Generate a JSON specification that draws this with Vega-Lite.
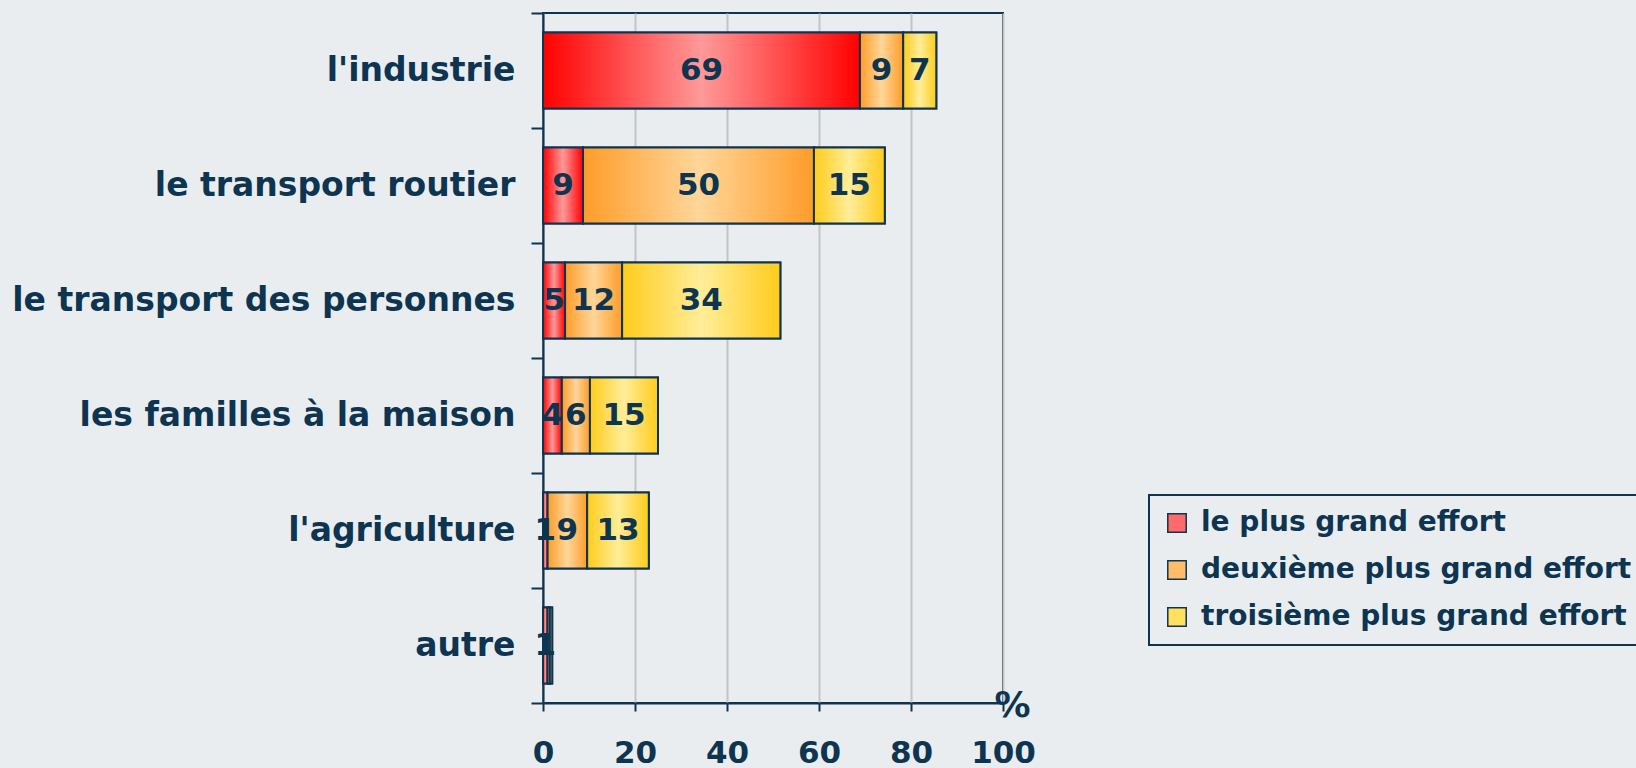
{
  "$schema": "https://vega.github.io/schema/vega-lite/v6.json",
  "autosize": {"type": "none"},
  "width": 460,
  "height": 690,
  "padding": {"left": 543, "top": 13, "right": 633, "bottom": 65},
  "background": "#e9edef",
  "config": {
    "font": "DejaVu Sans",
    "view": {"stroke": "#0d3551", "strokeWidth": 2},
    "axisX": {
      "titleFont": "DejaVu Sans",
      "titleFontSize": 36,
      "titleFontWeight": "bold",
      "titleColor": "#0d3551",
      "titleX": 469,
      "titleY": 2,
      "titleAlign": "center",
      "titleBaseline": "middle",
      "tickSize": 8,
      "tickWidth": 2,
      "tickColor": "#0d3551",
      "domainColor": "#0d3551",
      "domainWidth": 2,
      "grid": true,
      "gridColor": "#c4c4c4",
      "gridWidth": 2,
      "labelFont": "DejaVu Sans",
      "labelFontSize": 31,
      "labelFontWeight": "bold",
      "labelColor": "#0d3551",
      "labelPadding": 27,
      "labelFlush": false
    },
    "legend": {
      "orient": "none",
      "legendX": 606,
      "legendY": 482,
      "strokeColor": "#0d3551",
      "strokeWidth": 2,
      "padding": 14,
      "rowPadding": 19,
      "labelFont": "DejaVu Sans",
      "labelFontSize": 28,
      "labelFontWeight": "bold",
      "labelColor": "#0d3551",
      "labelOffset": 10,
      "labelLimit": 600,
      "symbolType": "square",
      "symbolSize": 340,
      "symbolOpacity": 1
    }
  },
  "data": {
    "values": [
      {"category": "l'industrie", "series": "le plus grand effort", "rank": 1, "value": 68.9},
      {"category": "l'industrie", "series": "deuxième plus grand effort", "rank": 2, "value": 9.4},
      {"category": "l'industrie", "series": "troisième plus grand effort", "rank": 3, "value": 7.2},
      {"category": "le transport routier ", "series": "le plus grand effort", "rank": 1, "value": 8.7},
      {"category": "le transport routier ", "series": "deuxième plus grand effort", "rank": 2, "value": 50.2},
      {"category": "le transport routier ", "series": "troisième plus grand effort", "rank": 3, "value": 15.4},
      {"category": "le transport des personnes", "series": "le plus grand effort", "rank": 1, "value": 4.8},
      {"category": "le transport des personnes", "series": "deuxième plus grand effort", "rank": 2, "value": 12.4},
      {"category": "le transport des personnes", "series": "troisième plus grand effort", "rank": 3, "value": 34.4},
      {"category": "les familles à la maison", "series": "le plus grand effort", "rank": 1, "value": 4.1},
      {"category": "les familles à la maison", "series": "deuxième plus grand effort", "rank": 2, "value": 6.1},
      {"category": "les familles à la maison", "series": "troisième plus grand effort", "rank": 3, "value": 14.8},
      {"category": "l'agriculture", "series": "le plus grand effort", "rank": 1, "value": 1.0},
      {"category": "l'agriculture", "series": "deuxième plus grand effort", "rank": 2, "value": 8.6},
      {"category": "l'agriculture", "series": "troisième plus grand effort", "rank": 3, "value": 13.4},
      {"category": "autre", "series": "le plus grand effort", "rank": 1, "value": 1.0},
      {"category": "autre", "series": "deuxième plus grand effort", "rank": 2, "value": 0.5},
      {"category": "autre", "series": "troisième plus grand effort", "rank": 3, "value": 0.5}
    ]
  },
  "encoding": {
    "y": {
      "field": "category",
      "type": "nominal",
      "sort": ["l'industrie", "le transport routier ", "le transport des personnes", "les familles à la maison", "l'agriculture", "autre"],
      "scale": {"paddingInner": 0, "paddingOuter": 0},
      "axis": {
        "title": null,
        "bandPosition": 1,
        "tickExtra": true,
        "tickSize": 12,
        "tickWidth": 2,
        "tickColor": "#0d3551",
        "domainColor": "#0d3551",
        "domainWidth": 2,
        "labelFont": "DejaVu Sans",
        "labelFontSize": 33,
        "labelFontWeight": "bold",
        "labelColor": "#0d3551",
        "labelPadding": 16,
        "labelLimit": 560,
        "labelExpr": "datum.value === 'le transport routier ' ? 'le transport routier\u00a0' : datum.value",
        "grid": false
      }
    }
  },
  "layer": [
    {
      "transform": [
        {"stack": "value", "groupby": ["category"], "sort": [{"field": "rank", "order": "ascending"}], "as": ["v0", "v1"]}
      ],
      "layer": [
        {
          "mark": {"type": "bar", "height": {"band": 0.66}, "stroke": "#0d3551", "strokeWidth": 2},
          "encoding": {
            "x": {"field": "v0", "type": "quantitative", "scale": {"domain": [0, 100], "nice": false}, "axis": {"values": [0, 20, 40, 60, 80, 100], "title": "%"}},
            "x2": {"field": "v1"},
            "color": {
              "field": "series",
              "type": "nominal",
              "scale": {
                "domain": ["le plus grand effort", "deuxième plus grand effort", "troisième plus grand effort"],
                "range": ["#ff6b6b", "#ffbd6a", "#ffe15e"]
              },
              "legend": {"title": null}
            }
          }
        },
        {
          "transform": [{"filter": "datum.rank === 1"}],
          "mark": {
            "type": "bar", "height": {"band": 0.66}, "stroke": "#0d3551", "strokeWidth": 2,
            "fill": {"gradient": "linear", "x1": 0, "y1": 0, "x2": 1, "y2": 0, "stops": [{"offset": 0, "color": "#ff0000"}, {"offset": 0.5, "color": "#ff9999"}, {"offset": 1, "color": "#ff0000"}]}
          },
          "encoding": {
            "x": {"field": "v0", "type": "quantitative", "scale": {"domain": [0, 100], "nice": false}, "axis": {"values": [0, 20, 40, 60, 80, 100], "title": "%"}},
            "x2": {"field": "v1"}
          }
        },
        {
          "transform": [{"filter": "datum.rank === 2"}],
          "mark": {
            "type": "bar", "height": {"band": 0.66}, "stroke": "#0d3551", "strokeWidth": 2,
            "fill": {"gradient": "linear", "x1": 0, "y1": 0, "x2": 1, "y2": 0, "stops": [{"offset": 0, "color": "#ff9c29"}, {"offset": 0.5, "color": "#ffd699"}, {"offset": 1, "color": "#ff9c29"}]}
          },
          "encoding": {
            "x": {"field": "v0", "type": "quantitative", "scale": {"domain": [0, 100], "nice": false}, "axis": {"values": [0, 20, 40, 60, 80, 100], "title": "%"}},
            "x2": {"field": "v1"}
          }
        },
        {
          "transform": [{"filter": "datum.rank === 3"}],
          "mark": {
            "type": "bar", "height": {"band": 0.66}, "stroke": "#0d3551", "strokeWidth": 2,
            "fill": {"gradient": "linear", "x1": 0, "y1": 0, "x2": 1, "y2": 0, "stops": [{"offset": 0, "color": "#ffcc1a"}, {"offset": 0.5, "color": "#ffed99"}, {"offset": 1, "color": "#ffcc1a"}]}
          },
          "encoding": {
            "x": {"field": "v0", "type": "quantitative", "scale": {"domain": [0, 100], "nice": false}, "axis": {"values": [0, 20, 40, 60, 80, 100], "title": "%"}},
            "x2": {"field": "v1"}
          }
        }
      ]
    },
    {
      "mark": {"type": "text", "font": "DejaVu Sans", "fontSize": 31, "fontWeight": "bold", "color": "#0d3551", "align": "center", "baseline": "middle"},
      "encoding": {
        "x": {"field": "value", "type": "quantitative", "stack": "zero", "bandPosition": 0.5, "scale": {"domain": [0, 100], "nice": false}, "axis": {"values": [0, 20, 40, 60, 80, 100], "title": "%"}},
        "order": {"field": "rank", "type": "quantitative"},
        "text": {"field": "value", "type": "quantitative", "format": ".0f"},
        "opacity": {"condition": {"test": "datum.value >= 0.9", "value": 1}, "value": 0}
      }
    }
  ]
}
